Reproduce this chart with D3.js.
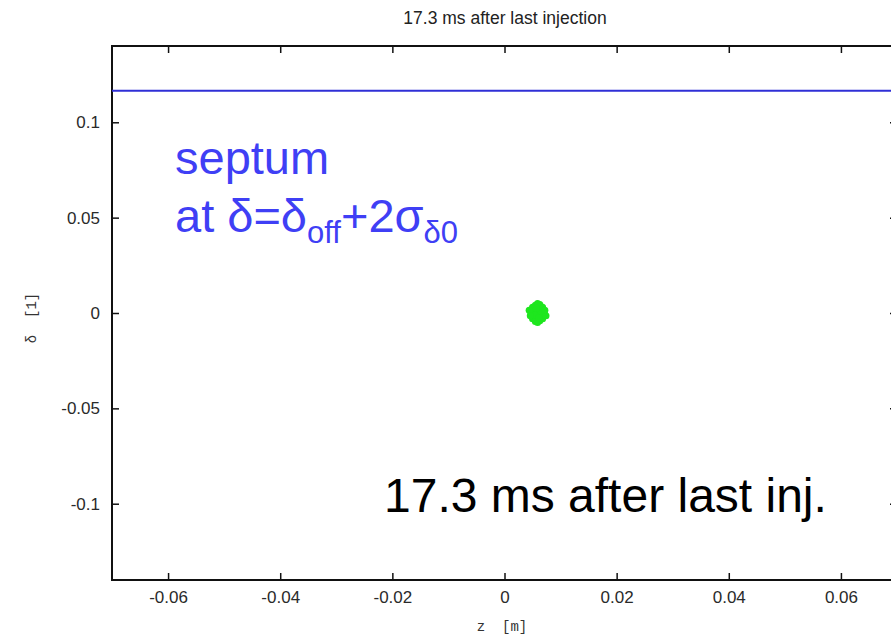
<!DOCTYPE html>
<html><head><meta charset="utf-8">
<style>
body { margin: 0; background: #fff; }
text { font-family: "Liberation Sans", Arial, sans-serif; }
.mono { font-family: "Liberation Mono", "DejaVu Sans Mono", monospace; }
</style>
</head><body>
<svg width="891" height="637"></svg>
<script src="https://d3js.org/d3.v7.min.js"></script>
<script>

var zTicks = [-0.06, -0.04, -0.02, 0, 0.02, 0.04, 0.06];
var deltaTicks = [-0.1, -0.05, 0, 0.05, 0.1];
var septumDelta = 0.1165;

// bunch particles (z, delta)
var bunchZ = [0.0059, 0.0052, 0.0066, 0.0059, 0.0059, 0.0047, 0.0071, 0.0050, 0.0068, 0.0050,
              0.0068, 0.0055, 0.0063, 0.0055, 0.0063, 0.0044, 0.0074, 0.0059, 0.0059, 0.0053,
              0.0065, 0.0046, 0.0072, 0.0057, 0.0061];
var bunchDelta = [0.0000, 0.0020, -0.0020, 0.0040, -0.0040, 0.0000, 0.0000, -0.0030, 0.0030, 0.0030,
                  -0.0030, -0.0045, 0.0045, 0.0040, -0.0040, 0.0015, -0.0015, 0.0050, -0.0050, -0.0010,
                  0.0010, -0.0015, 0.0015, 0.0025, -0.0025];

var svg = d3.select("svg"),
    pLeft = 112, pRight = 897, pTop = 46, pBottom = 580;

var x = d3.scaleLinear().domain([-0.07, 0.07]).range([pLeft, pRight]),
    y = d3.scaleLinear().domain([-0.14, 0.14]).range([pBottom, pTop]);

var fmt = function(d) { return String(d); };

var g = svg.append("g");

// axes, ticks pointing inward and mirrored on top/right
function styleAxis(sel) {
  sel.select(".domain").remove();
  sel.selectAll(".tick line").attr("stroke", "#111").attr("stroke-width", 1.5);
  sel.selectAll(".tick text")
    .style("font-family", "'Liberation Sans', Arial, sans-serif")
    .style("font-size", "17px").attr("fill", "#2a2a2a");
}
g.append("g").attr("transform", "translate(0," + pBottom + ")")
  .call(d3.axisBottom(x).tickValues(zTicks).tickSize(-7).tickPadding(11).tickFormat(fmt))
  .call(styleAxis);
g.append("g").attr("transform", "translate(0," + pTop + ")")
  .call(d3.axisTop(x).tickValues(zTicks).tickSize(-7).tickFormat(""))
  .call(styleAxis);
g.append("g").attr("transform", "translate(" + pLeft + ",0)")
  .call(d3.axisLeft(y).tickValues(deltaTicks).tickSize(-7).tickPadding(12).tickFormat(fmt))
  .call(styleAxis);
g.append("g").attr("transform", "translate(" + pRight + ",0)")
  .call(d3.axisRight(y).tickValues(deltaTicks).tickSize(-7).tickFormat(""))
  .call(styleAxis);

g.append("rect")
  .attr("x", pLeft).attr("y", pTop)
  .attr("width", pRight - pLeft).attr("height", pBottom - pTop)
  .attr("fill", "none").attr("stroke", "#111").attr("stroke-width", 2);

// septum line
g.append("line")
  .attr("x1", pLeft).attr("x2", pRight)
  .attr("y1", y(septumDelta)).attr("y2", y(septumDelta))
  .attr("stroke", "#2f2fd6").attr("stroke-width", 2);

// bunch
g.selectAll(".p")
  .data(bunchZ.map(function(d, i) { return [d, bunchDelta[i]]; }))
  .enter().append("circle")
    .attr("cx", function(d) { return x(d[0]); })
    .attr("cy", function(d) { return y(d[1]); })
    .attr("r", 3.5)
    .attr("fill", "#1ee61e");

// title and axis labels
svg.append("text").attr("x", 505).attr("y", 24).attr("text-anchor", "middle")
  .attr("font-size", 17.5).attr("fill", "#222").text("17.3 ms after last injection");
svg.append("text").attr("class", "mono").attr("x", 502).attr("y", 631).attr("text-anchor", "middle")
  .attr("font-size", 14).attr("fill", "#333").attr("xml:space", "preserve").text("z  [m]");
svg.append("text").attr("class", "mono").attr("transform", "translate(36,318) rotate(-90)")
  .attr("text-anchor", "middle").attr("font-size", 14).attr("fill", "#333")
  .attr("xml:space", "preserve").text("δ  [1]");

// annotations
var blue = "#3f3ff5";
svg.append("text").attr("x", 175).attr("y", 174).attr("font-size", 47).attr("fill", blue).text("septum");
var t2 = svg.append("text").attr("x", 175).attr("y", 232).attr("font-size", 47).attr("fill", blue);
t2.append("tspan").text("at δ=δ");
t2.append("tspan").attr("font-size", 31).attr("dy", 11).text("off");
t2.append("tspan").attr("dy", -11).text("+2σ");
t2.append("tspan").attr("font-size", 31).attr("dy", 11).text("δ0");

svg.append("text").attr("x", 384).attr("y", 512).attr("font-size", 48).attr("fill", "#000")
  .text("17.3 ms after last inj.");

</script>
</body></html>
